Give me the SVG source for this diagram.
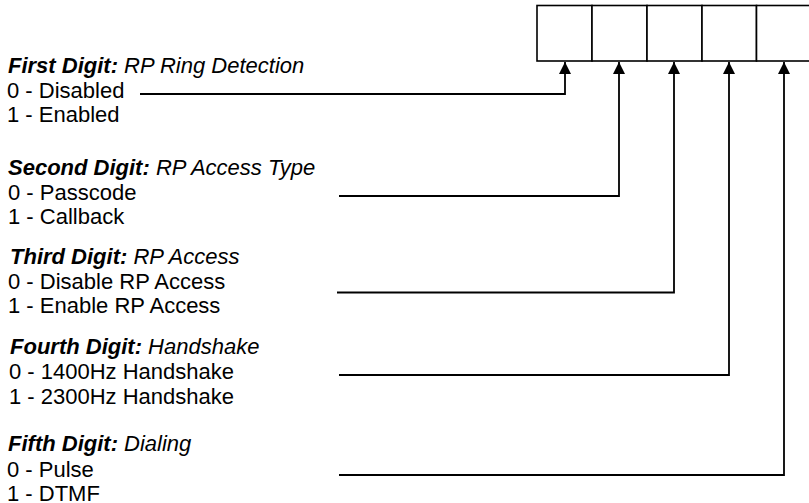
<svg xmlns="http://www.w3.org/2000/svg" width="809" height="503" viewBox="0 0 809 503">
<defs>
<style>
.t{font-family:"Liberation Sans",Arial,sans-serif;font-size:22px;fill:#000}
.h{font-weight:bold;font-style:italic}
.i{font-style:italic;font-weight:normal}
.box{fill:#fff;stroke:#000;stroke-width:1.6}
.conn{fill:none;stroke:#000;stroke-width:1.8}
</style>
<marker id="arr" markerWidth="12" markerHeight="12" refX="12" refY="6" orient="auto" markerUnits="userSpaceOnUse">
<path d="M0,0 L12,6 L0,12 Z" fill="#000"/>
</marker>
</defs>
<rect width="809" height="503" fill="#fff"/>
<g id="digits">
<rect class="box" x="537" y="5.5" width="55" height="55.5"/>
<rect class="box" x="592" y="5.5" width="55" height="55.5"/>
<rect class="box" x="647" y="5.5" width="55" height="55.5"/>
<rect class="box" x="702" y="5.5" width="54.5" height="55.5"/>
<rect class="box" x="756.5" y="5.5" width="55" height="55.5"/>
</g>
<g id="first">
<text class="t" x="8" y="73"><tspan class="h">First Digit:</tspan><tspan class="i"> RP Ring Detection</tspan></text>
<text class="t" x="7" y="97.5">0 - Disabled</text>
<text class="t" x="7" y="121.5">1 - Enabled</text>
</g>
<g id="second">
<text class="t" x="8" y="175"><tspan class="h">Second Digit:</tspan><tspan class="i"> RP Access Type</tspan></text>
<text class="t" x="8" y="199.5">0 - Passcode</text>
<text class="t" x="8" y="223.5">1 - Callback</text>
</g>
<g id="third">
<text class="t" x="10" y="264"><tspan class="h">Third Digit:</tspan><tspan class="i"> RP Access</tspan></text>
<text class="t" x="8" y="288.5">0 - Disable RP Access</text>
<text class="t" x="8" y="313">1 - Enable RP Access</text>
</g>
<g id="fourth">
<text class="t" x="10" y="354"><tspan class="h">Fourth Digit:</tspan><tspan class="i"> Handshake</tspan></text>
<text class="t" x="9" y="379">0 - 1400Hz Handshake</text>
<text class="t" x="9" y="404">1 - 2300Hz Handshake</text>
</g>
<g id="fifth">
<text class="t" x="8" y="451"><tspan class="h">Fifth Digit:</tspan><tspan class="i"> Dialing</tspan></text>
<text class="t" x="7" y="476.5">0 - Pulse</text>
<text class="t" x="7" y="500.5">1 - DTMF</text>
</g>
<g id="connectors">
<path class="conn" d="M140,94 H565 V62" marker-end="url(#arr)"/>
<path class="conn" d="M339,196 H619 V62" marker-end="url(#arr)"/>
<path class="conn" d="M337,292.5 H674 V62" marker-end="url(#arr)"/>
<path class="conn" d="M339,375 H729 V62" marker-end="url(#arr)"/>
<path class="conn" d="M339,475 H784 V62" marker-end="url(#arr)"/>
</g>
</svg>
